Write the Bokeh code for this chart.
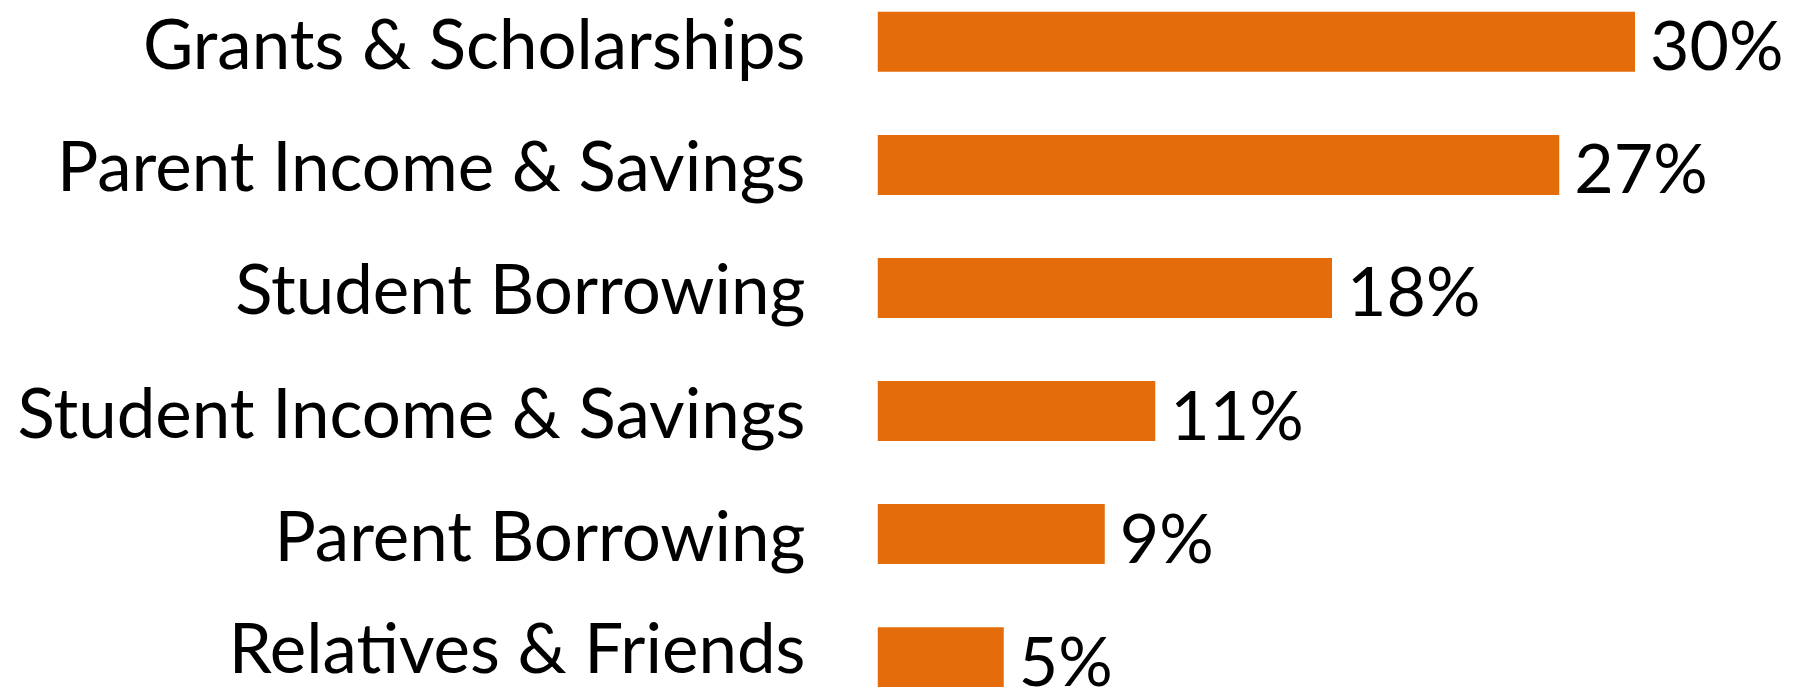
from bokeh.plotting import figure
from bokeh.models import ColumnDataSource, Range1d, FixedTicker
from bokeh.core.properties import value
from bokeh.embed import file_html
from bokeh.resources import INLINE

categories = ["Grants & Scholarships", "Parent Income & Savings", "Student Borrowing",
              "Student Income & Savings", "Parent Borrowing", "Relatives & Friends"]
shares = [30, 27, 18, 11, 9, 5]
value_labels = [f"{v}%" for v in shares]

FONT = "Lato"
BAR_COLOR = "#E46C0A"

W, H = 1797, 687
FRAME_LEFT = 877
PX_PER_PCT = 25.25
FIRST_CENTER = 41.3
STEP = 123.08

pos = list(range(len(categories)))
src = ColumnDataSource(dict(y=pos, v=shares, lab=value_labels))

x_end = (W - FRAME_LEFT) / PX_PER_PCT
y_top = (0 - FIRST_CENTER) / STEP
y_bot = (H - FIRST_CENTER) / STEP

p = figure(width=W, height=H, output_backend="svg", toolbar_location=None,
           x_range=Range1d(0, x_end), y_range=Range1d(y_bot, y_top),
           min_border_left=FRAME_LEFT, min_border_right=0, min_border_top=0, min_border_bottom=0)

p.hbar(y="y", right="v", left=0, height=60 / STEP, source=src, color=BAR_COLOR, line_color=None)
p.text(x="v", y="y", text="lab", source=src, x_offset=15, y_offset=2, text_align="left",
       text_baseline="middle", text_font=value(FONT), text_font_size="68px", text_color="black")

p.xaxis.visible = False
p.yaxis.ticker = FixedTicker(ticks=pos)
p.yaxis.major_label_overrides = {i: c for i, c in enumerate(categories)}
p.yaxis.major_label_text_font = FONT
p.yaxis.major_label_text_font_size = "69px"
p.yaxis.major_label_text_color = "black"
p.yaxis.major_label_standoff = 72
p.yaxis.major_tick_out = 0
p.yaxis.major_tick_in = 0
p.yaxis.minor_tick_line_color = None
p.yaxis.axis_line_color = None
p.grid.visible = False
p.outline_line_color = None
p.background_fill_color = "white"
p.border_fill_color = "white"

open("out.html", "w").write(file_html(p, INLINE))
